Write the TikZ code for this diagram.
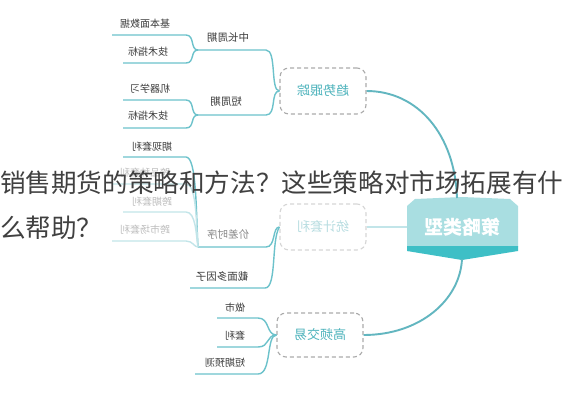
\documentclass[tikz,border=0pt]{standalone}
\usepackage{fontspec}
\setmainfont{Noto Sans CJK SC}
\usepackage{graphicx}
\definecolor{lineC}{HTML}{6CC2CB}
\definecolor{mainC}{HTML}{62B6C0}
\definecolor{fadeLine}{HTML}{C2E5E9}
\definecolor{leafC}{HTML}{3C3C3C}
\definecolor{fadeText}{HTML}{BDBDBD}
\definecolor{midGray}{HTML}{8A8A8A}
\definecolor{branchC}{HTML}{4DB3BC}
\definecolor{fadeBranch}{HTML}{B8DDE1}
\definecolor{dashC}{HTML}{ABABAB}
\definecolor{fadeDash}{HTML}{D6D6D6}
\definecolor{hexLight}{HTML}{A9DEE1}
\definecolor{hexDark}{HTML}{3EBFC6}
\definecolor{titleC}{HTML}{404040}
\tikzset{
  leaf/.style={font=\fontsize{10}{12}\selectfont, text=leafC, inner sep=0pt},
  midtext/.style={font=\fontsize{10.5}{12}\selectfont, text=leafC, inner sep=0pt},
  branch/.style={draw=dashC, dash pattern=on 4pt off 3pt, rounded corners=9pt,
    minimum width=86pt, minimum height=46pt, text=branchC, line width=1.1pt,
    font=\fontsize{13}{15}\selectfont, inner sep=0pt},
  conn/.style={draw=lineC, line width=1.4pt},
  fconn/.style={draw=fadeLine, line width=1.4pt},
  mainlink/.style={draw=mainC, line width=1.9pt},
  titletext/.style={font=\fontsize{25.6}{30}\selectfont, text=titleC, inner sep=0pt, anchor=west}
}
\begin{document}
\begin{tikzpicture}[x=1pt,y=-1pt]
\useasboundingbox (0,0) rectangle (568,400);
\fill[white] (0,0) rectangle (568,400);

% ---------- branch boxes ----------
\node[branch] (trend) at (323,91) {\reflectbox{趋势跟踪}};
\node[branch, draw=fadeDash, text=fadeBranch] (stat) at (323,227) {\reflectbox{统计套利}};
\node[branch, minimum height=44pt] (hft) at (320,335) {\reflectbox{高频交易}};

% ---------- central node ----------
\coordinate (c) at (462,227);
\fill[hexLight] (407,247) -- (407,206) -- (415,199) -- (462,197) -- (510,199) -- (518,206) -- (518,247) -- cycle;
\fill[hexDark] (407,246) -- (518,246) -- (518,251) -- (462,260) -- (407,251) -- cycle;
\coordinate (ctop) at (457,198);
\coordinate (cbot) at (462,259);
\coordinate (cleft) at (407,227);
\node[font=\fontsize{19}{22}\selectfont\bfseries, text=white, inner sep=0pt] (center) at (c) {\reflectbox{策略类型}};

% ---------- main links ----------
\draw[mainlink] (trend.east) .. controls (418,91) and (455,135) .. (ctop);
\draw[draw=fadeLine, line width=1.9pt] (stat.east) -- (cleft);
\draw[mainlink] (hft.east) .. controls (420,335) and (460,300) .. (cbot);

% ---------- trend group ----------
\coordinate (fm1) at (198,50);
\coordinate (fm2) at (198,115);
\node[midtext] (m1) at (228,38) {\reflectbox{中长周期}};
\node[midtext] (m2) at (226,102) {\reflectbox{短周期}};
\coordinate (m1e) at (266,50);
\coordinate (m2e) at (266,115);
\draw[conn] (fm1) -- (m1e) .. controls (277,50) and (270,91) .. (trend.west);
\draw[conn] (fm2) -- (m2e) .. controls (277,115) and (270,91) .. (trend.west);

\node[leaf] (a1) at (145,24) {\reflectbox{基本面数据}};
\node[leaf] (a2) at (148,52) {\reflectbox{技术指标}};
\node[leaf] (a3) at (150,89) {\reflectbox{机器学习}};
\node[leaf] (a4) at (148,116) {\reflectbox{技术指标}};
\coordinate (a1s) at (112,35); \coordinate (a1e) at (186,35);
\coordinate (a2s) at (123,63); \coordinate (a2e) at (186,63);
\coordinate (a3s) at (123,100); \coordinate (a3e) at (186,100);
\coordinate (a4s) at (123,128); \coordinate (a4e) at (186,128);
\draw[conn] (a1s) -- (a1e) .. controls (195,35) and (190,50) .. (fm1);
\draw[conn] (a2s) -- (a2e) .. controls (195,63) and (190,50) .. (fm1);
\draw[conn] (a3s) -- (a3e) .. controls (195,100) and (190,115) .. (fm2);
\draw[conn] (a4s) -- (a4e) .. controls (195,128) and (190,115) .. (fm2);

% ---------- stat group ----------
\coordinate (fs1) at (198,247);
\coordinate (fs2) at (190,288);
\node[midtext, text=midGray] (s1) at (228,235) {\reflectbox{价差时序}};
\node[midtext] (s2) at (222,277) {\reflectbox{截面多因子}};
\coordinate (s1e) at (266,247);
\coordinate (s2e) at (265,288);
\draw[conn] (fs1) -- (s1e) .. controls (276,247) and (272,227) .. (stat.west);
\draw[conn] (fs2) -- (s2e) .. controls (277,288) and (271,240) .. (stat.west);

\node[leaf] (b1) at (152,147) {\reflectbox{期现套利}};
\node[leaf, text=fadeText] (b2) at (145,173) {\reflectbox{跨品种套利}};
\node[leaf, text=fadeText] (b3) at (152,202) {\reflectbox{跨期套利}};
\node[leaf, text=fadeText] (b4) at (145,230) {\reflectbox{跨市场套利}};
\coordinate (b1s) at (123,157); \coordinate (b1e) at (186,157);
\coordinate (b2s) at (112,184); \coordinate (b2e) at (186,184);
\coordinate (b3s) at (123,212); \coordinate (b3e) at (186,212);
\coordinate (b4s) at (112,241); \coordinate (b4e) at (186,241);
\draw[conn] (b1s) -- (b1e) .. controls (197,157) and (196,215) .. (fs1);
\draw[fconn] (b2s) -- (b2e) .. controls (197,184) and (196,225) .. (fs1);
\draw[fconn] (b3s) -- (b3e) .. controls (196,212) and (196,235) .. (fs1);
\draw[fconn] (b4s) -- (b4e) .. controls (193,241) and (194,247) .. (fs1);

% ---------- hft group ----------
\node[leaf] (h1) at (235,308) {\reflectbox{做市}};
\node[leaf] (h2) at (235,336) {\reflectbox{套利}};
\node[leaf] (h3) at (225,363) {\reflectbox{短期预测}};
\coordinate (h1s) at (217,318); \coordinate (h1e) at (258,318);
\coordinate (h2s) at (217,347); \coordinate (h2e) at (258,347);
\coordinate (h3s) at (195,374); \coordinate (h3e) at (258,374);
\draw[conn] (h1s) -- (h1e) .. controls (270,318) and (266,335) .. (hft.west);
\draw[conn] (h2s) -- (h2e) .. controls (270,347) and (266,335) .. (hft.west);
\draw[conn] (h3s) -- (h3e) .. controls (272,374) and (266,335) .. (hft.west);

% ---------- overlaid title ----------
\node[titletext] (title1) at (0,183) {销售期货的策略和方法？这些策略对市场拓展有什};
\node[titletext] (title2) at (0,228) {么帮助？};
\end{tikzpicture}
\end{document}
